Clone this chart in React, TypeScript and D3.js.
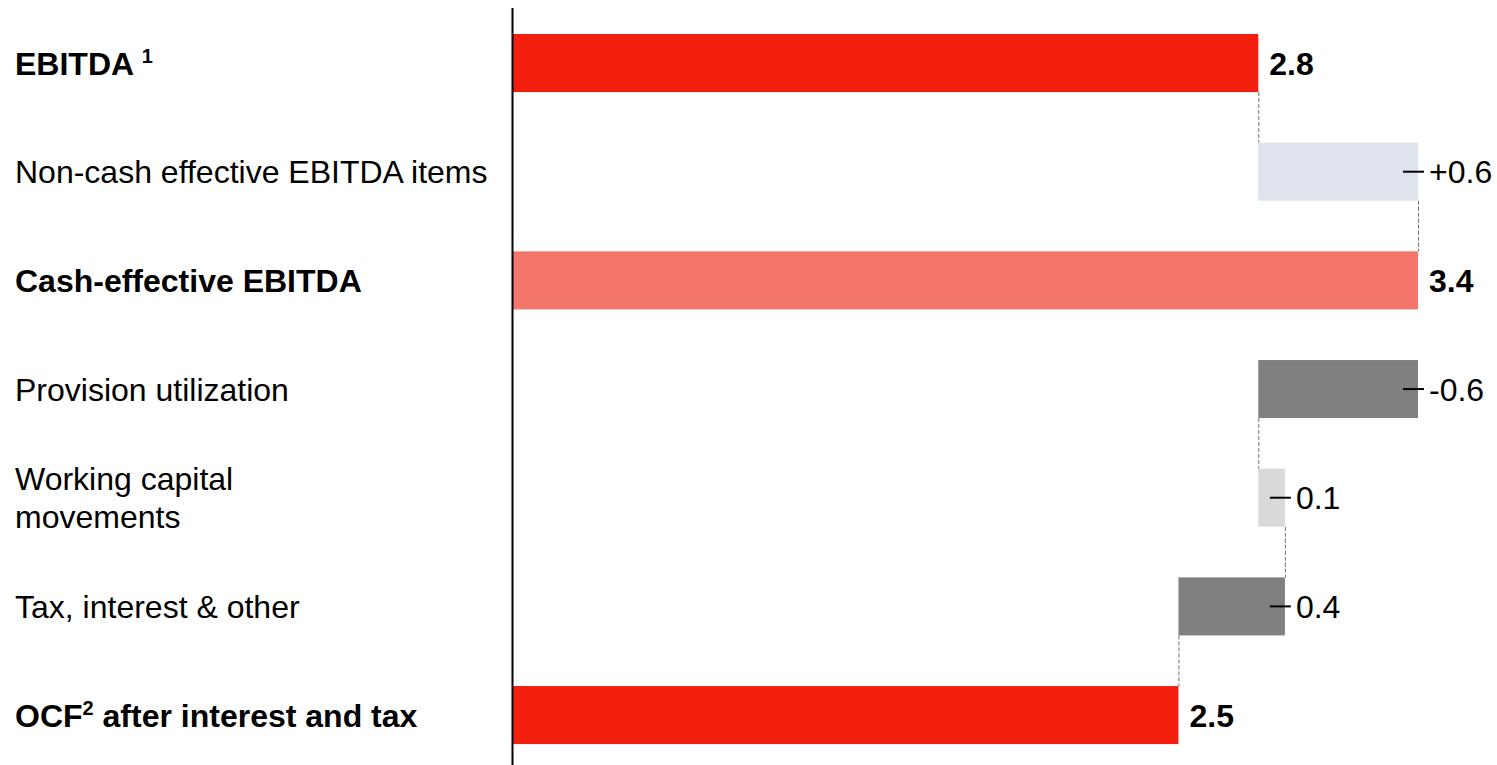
import React from 'react';
import * as d3 from 'd3';

// ---- data ----
const categories = ['ebitda', 'noncash', 'cashEbitda', 'provision', 'workingCapital', 'taxInterest', 'ocf'];
const labelLines = [
  ['EBITDA '],
  ['Non-cash effective EBITDA items'],
  ['Cash-effective EBITDA'],
  ['Provision utilization'],
  ['Working capital', 'movements'],
  ['Tax, interest & other'],
  ['OCF'],
];
const labelSup = ['1', '', '', '', '', '', '2'];
const labelTail = ['', '', '', '', '', '', ' after interest and tax'];
const isTotal = [true, false, true, false, false, false, true];
const values = [2.8, 0.6, 3.4, -0.6, 0.1, -0.4, 2.5];
const valueLabels = ['2.8', '+0.6', '3.4', '-0.6', '0.1', '0.4', '2.5'];
const barColors = ['#F21F0E', '#DEE3ED', '#F4766B', '#808080', '#D9D9D9', '#808080', '#F21F0E'];
const connectAfter = [true, true, false, true, true, true, false];

const W = 1497;
const H = 765;
const FONT = '"Liberation Sans", Arial, Helvetica, sans-serif';
const FS = 32;

export default function App() {
  const x = d3.scaleLinear().domain([0, 3.4]).range([513, 1418]);
  const y = d3
    .scaleBand<string>()
    .domain(categories)
    .range([8.7, 769.4])
    .paddingInner(0.466)
    .paddingOuter(0.233);
  const bw = y.bandwidth();

  // compute waterfall geometry
  let running = 0;
  const bars = categories.map((c, i) => {
    let start: number, end: number;
    if (isTotal[i]) {
      start = 0;
      end = values[i];
    } else {
      start = running;
      end = running + values[i];
    }
    running = end;
    return {
      c,
      i,
      start,
      end,
      lo: Math.min(start, end),
      hi: Math.max(start, end),
      top: y(c) as number,
    };
  });

  const baseOff = 11.5;

  return (
    <svg
      width={W}
      height={H}
      style={{ position: 'absolute', left: 0, top: 0, background: '#fff' }}
      fontFamily={FONT}
    >
      {/* connectors */}
      {bars.map((b, i) =>
        connectAfter[i] && i < bars.length - 1 ? (
          <line
            key={'con' + i}
            x1={x(b.end) + 0.5}
            x2={x(b.end) + 0.5}
            y1={b.top + bw}
            y2={bars[i + 1].top}
            stroke="#707070"
            strokeWidth={1}
            strokeDasharray="4,2"
          />
        ) : null
      )}

      {/* bars */}
      {bars.map((b, i) => (
        <rect
          key={'bar' + i}
          x={x(b.lo)}
          y={b.top}
          width={x(b.hi) - x(b.lo)}
          height={bw}
          fill={barColors[i]}
        />
      ))}

      {/* axis line */}
      <line x1={x(0) - 0.5} x2={x(0) - 0.5} y1={8} y2={H} stroke="#000" strokeWidth={2} />

      {/* value labels */}
      {bars.map((b, i) => {
        const cy = b.top + bw / 2;
        if (isTotal[i]) {
          return (
            <text
              key={'val' + i}
              x={x(b.hi) + 11}
              y={cy + baseOff}
              fontSize={FS}
              fontWeight="bold"
              fill="#000"
            >
              {valueLabels[i]}
            </text>
          );
        }
        const ex = x(b.hi);
        return (
          <g key={'val' + i}>
            <line x1={ex - 15} x2={ex + 6} y1={cy} y2={cy} stroke="#000" strokeWidth={2} />
            <text x={ex + 11} y={cy + baseOff} fontSize={FS} fill="#000">
              {valueLabels[i]}
            </text>
          </g>
        );
      })}

      {/* category labels */}
      {bars.map((b, i) => {
        const cy = b.top + bw / 2;
        const lines = labelLines[i];
        const lh = 38;
        return (
          <text
            key={'lab' + i}
            fontSize={FS}
            fontWeight={isTotal[i] ? 'bold' : 'normal'}
            fill="#000"
            style={{ whiteSpace: 'pre' }}
          >
            {lines.map((ln, j) => (
              <tspan key={j} x={15} y={cy + baseOff + (j - (lines.length - 1) / 2) * lh}>
                {ln}
              </tspan>
            ))}
            {labelSup[i] ? (
              <tspan fontSize={20} dy={-12}>
                {labelSup[i]}
              </tspan>
            ) : null}
            {labelTail[i] ? <tspan dy={12}>{labelTail[i]}</tspan> : null}
          </text>
        );
      })}
    </svg>
  );
}
